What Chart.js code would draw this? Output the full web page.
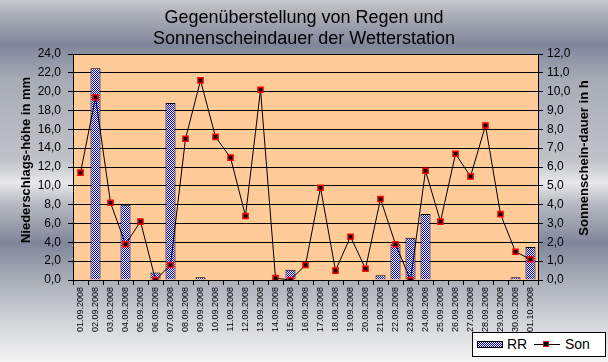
<!DOCTYPE html>
<html>
<head>
<meta charset="utf-8">
<script src="https://cdn.jsdelivr.net/npm/chart.js@4/dist/chart.umd.min.js"></script>
<style>
  html, body { margin: 0; padding: 0; }
  body {
    width: 608px; height: 362px; position: relative; overflow: hidden;
    background: linear-gradient(to bottom,
      #c8cacf 0px, #b0b3ba 12px, #80869a 45px, #a8acb6 80px, #c0c2c8 160px,
      #e8e8ea 183px, #b8bbc2 203px, #808699 243px, #aaaeb8 280px,
      #d0d2d6 320px, #f4f4f4 362px);
    font-family: "Liberation Sans", Arial, sans-serif;
  }
  #chart { position: absolute; left: 0; top: 0; }
  #legend {
    position: absolute; left: 472px; top: 332px; width: 132px; height: 23px;
    background: #fff; border: 1px solid #000; font-size: 14px; color: #000;
  }
  #legend .sw {
    position: absolute; left: 4px; top: 8px; width: 24px; height: 5px;
    border: 1px solid #000;
    background-image: repeating-conic-gradient(#0000ff 0 25%, #ffffff 0 50%);
    background-size: 2px 2px;
  }
  #legend .t1 { position: absolute; left: 34px; top: 3px; }
  #legend .ln { position: absolute; left: 61px; top: 11px; width: 26px; height: 1px; background: #000; }
  #legend .mk { position: absolute; left: 70px; top: 8px; width: 4px; height: 4px; background: #000; border: 1px solid #f00; }
  #legend .t2 { position: absolute; left: 92px; top: 3px; }
</style>
</head>
<body>
<canvas id="chart" width="608" height="362"></canvas>
<div id="legend">
  <span class="sw"></span><span class="t1">RR</span>
  <span class="ln"></span><span class="mk"></span><span class="t2">Son</span>
</div>
<script>
// Daten
const tage = [
  "01.09.2008", "02.09.2008", "03.09.2008", "04.09.2008", "05.09.2008", "06.09.2008",
  "07.09.2008", "08.09.2008", "09.09.2008", "10.09.2008", "11.09.2008", "12.09.2008",
  "13.09.2008", "14.09.2008", "15.09.2008", "16.09.2008", "17.09.2008", "18.09.2008",
  "19.09.2008", "20.09.2008", "21.09.2008", "22.09.2008", "23.09.2008", "24.09.2008",
  "25.09.2008", "26.09.2008", "27.09.2008", "28.09.2008", "29.09.2008", "30.09.2008",
  "01.10.2008"
];
// Niederschlag in mm
const regen = [
  0, 22.5, 0, 8.0, 0, 0.8, 18.8, 0, 0.3, 0, 0, 0, 0, 0, 1.1, 0,
  0, 0, 0, 0, 0.5, 3.8, 4.5, 7.0, 0, 0, 0, 0, 0, 0.3, 3.5
];
// Sonnenscheindauer in h
const sonne = [
  5.7, 9.7, 4.1, 1.9, 3.1, 0, 0.8, 7.5, 10.6, 7.6, 6.5, 3.4, 10.1, 0.1, 0, 0.8,
  4.9, 0.5, 2.3, 0.6, 4.3, 1.9, 0, 5.8, 3.1, 6.7, 5.5, 8.2, 3.5, 1.5, 1.1
];
const titelZeilen = ["Gegenüberstellung von Regen und", "Sonnenscheindauer der Wetterstation"];

// Karomuster fuer die Balken
const pc = document.createElement("canvas");
pc.width = 2; pc.height = 2;
const pctx = pc.getContext("2d");
pctx.fillStyle = "#ffffff"; pctx.fillRect(0, 0, 2, 2);
pctx.fillStyle = "#0000ff"; pctx.fillRect(0, 0, 1, 1); pctx.fillRect(1, 1, 1, 1);
const ctx = document.getElementById("chart").getContext("2d");
const muster = ctx.createPattern(pc, "repeat");

const komma = v => v.toFixed(1).replace(".", ",");

// Hintergrund der Zeichenflaeche und Achsentitel
const extras = {
  id: "extras",
  beforeDraw(chart) {
    const a = chart.chartArea;
    const c = chart.ctx;
    c.save();
    c.fillStyle = "#ffcc99";
    c.fillRect(a.left, a.top, a.right - a.left, a.bottom - a.top);
    c.restore();
  },
  afterDraw(chart) {
    const c = chart.ctx;
    c.save();
    c.fillStyle = "#000";
    c.font = "bold 13px 'Liberation Sans', Arial, sans-serif";
    c.textAlign = "center";
    c.textBaseline = "middle";
    c.translate(26, 160);
    c.rotate(-Math.PI / 2);
    c.fillText("Niederschlags-höhe in mm", 0, 0);
    c.restore();
    c.save();
    c.fillStyle = "#000";
    c.font = "bold 13px 'Liberation Sans', Arial, sans-serif";
    c.textAlign = "center";
    c.textBaseline = "middle";
    c.translate(584, 158);
    c.rotate(-Math.PI / 2);
    c.fillText("Sonnenschein-dauer in h", 0, 0);
    c.restore();
  }
};

new Chart(ctx, {
  data: {
    labels: tage,
    datasets: [
      {
        type: "bar",
        label: "RR",
        data: regen,
        yAxisID: "y",
        backgroundColor: muster,
        borderColor: "#000",
        borderWidth: 1,
        barPercentage: 0.67,
        categoryPercentage: 1,
        order: 1
      },
      {
        type: "line",
        label: "Son",
        data: sonne,
        yAxisID: "y1",
        borderColor: "#000",
        borderWidth: 1,
        tension: 0,
        pointStyle: "rect",
        pointRadius: 3.6,
        pointBorderWidth: 1.5,
        pointBorderColor: "#ff0000",
        pointBackgroundColor: "#000",
        order: 0
      }
    ]
  },
  options: {
    responsive: false,
    animation: false,
    layout: { padding: 0 },
    plugins: {
      legend: { display: false },
      tooltip: { enabled: false },
      title: {
        display: true,
        text: titelZeilen,
        color: "#000",
        font: { family: "'Liberation Sans', Arial, sans-serif", size: 18, weight: "normal", lineHeight: 1.2 },
        padding: { top: 7, bottom: 3.8 }
      }
    },
    scales: {
      x: {
        offset: true,
        grid: { offset: true, drawOnChartArea: false, tickLength: 5, color: "#000" },
        border: { color: "#000" },
        ticks: {
          autoSkip: false, minRotation: 90, maxRotation: 90, padding: 2, color: "#000",
          font: { family: "'Liberation Sans', Arial, sans-serif", size: 9 }
        },
        afterFit(s) { s.height = 82; }
      },
      y: {
        position: "left",
        min: 0, max: 24,
        grid: { color: "#000", lineWidth: 1, tickLength: 5 },
        border: { color: "#000" },
        ticks: {
          stepSize: 2, padding: 7, color: "#000", callback: komma,
          font: { family: "'Liberation Sans', Arial, sans-serif", size: 12 }
        },
        afterFit(s) { s.width = 73; }
      },
      y1: {
        position: "right",
        min: 0, max: 12,
        grid: { drawOnChartArea: false, color: "#000", tickLength: 5 },
        border: { color: "#000" },
        ticks: {
          stepSize: 1, padding: 4, color: "#000", callback: komma,
          font: { family: "'Liberation Sans', Arial, sans-serif", size: 12 }
        },
        afterFit(s) { s.width = 70; }
      }
    }
  },
  plugins: [extras]
});
</script>
</body>
</html>
